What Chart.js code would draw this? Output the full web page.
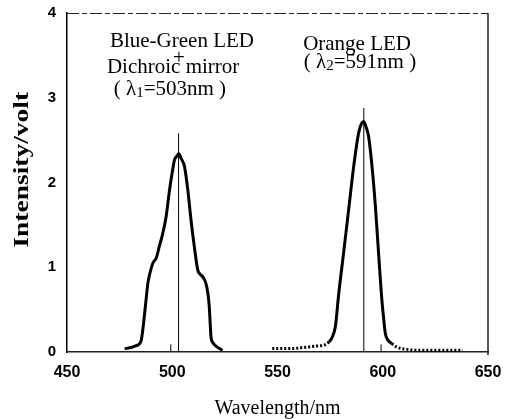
<!DOCTYPE html>
<html>
<head>
<meta charset="utf-8">
<script src="https://cdn.jsdelivr.net/npm/chart.js@4/dist/chart.umd.min.js"></script>
<style>
  html, body { margin: 0; padding: 0; background: #fff; }
  canvas { display: block; }
</style>
</head>
<body>
<canvas id="spectra" width="506" height="419"></canvas>
<script>
// blue-green LED through dichroic mirror
const blueGreenWl = [477.4, 480.0, 482.2, 484.2, 485.3, 486.2, 486.9, 487.7, 488.4, 489.6, 490.8, 492.4, 493.8, 495.5, 497.1, 498.7, 500.0, 501.1, 502.2, 503.1, 504.3, 505.8, 507.4, 508.9, 510.5, 512.1, 513.2, 514.4, 516.0, 517.0, 517.6, 518.0, 518.4, 519.3, 520.8, 522.4, 523.9]
const blueGreenV  = [0.04, 0.05, 0.07, 0.09, 0.14, 0.30, 0.46, 0.65, 0.81, 0.95, 1.05, 1.11, 1.24, 1.40, 1.60, 1.91, 2.12, 2.27, 2.31, 2.34, 2.28, 2.19, 1.91, 1.56, 1.24, 0.97, 0.92, 0.89, 0.81, 0.68, 0.53, 0.35, 0.18, 0.11, 0.07, 0.04, 0.02]

// orange LED
const orangeWl = [547.5, 552, 557, 561, 565, 568.5, 572.0, 574.5, 575.9, 577.5, 579.1, 581.4, 583.8, 586.2, 588.5, 590.0, 590.9, 592.0, 593.3, 594.9, 596.5, 598.0, 599.6, 600.5, 601.2, 602.5, 604.3, 606.5, 609.0, 612, 616, 620, 625, 630, 635, 638]
const orangeV  = [0.04, 0.04, 0.04, 0.05, 0.06, 0.07, 0.08, 0.12, 0.17, 0.30, 0.69, 1.17, 1.68, 2.19, 2.58, 2.70, 2.72, 2.66, 2.54, 2.19, 1.72, 1.17, 0.61, 0.38, 0.22, 0.14, 0.10, 0.06, 0.04, 0.03, 0.02, 0.02, 0.02, 0.02, 0.02, 0.02]

// peak marker lines (wavelength, top value)
const peakWl  = [503, 591]
const peakTop = [2.58, 2.88]

// little marks standing on the axis
const axisMarkWl = [499.3, 599.2]
const axisMarkH = 0.09

const xTicks = [450, 500, 550, 600, 650]
const yTicks = [0, 1, 2, 3, 4]

const yTitle = 'Intensity/volt'

const annotations = [
  { wl: 504.6, v: 3.60, text: 'Blue-Green LED' },
  { wl: 503.2, v: 3.40, text: '+' },
  { wl: 500.4, v: 3.29, text: 'Dichroic mirror' },
  { wl: 498.9, v: 3.03, text: '( λ', sub: '1', rest: '=503nm )' },
  { wl: 587.8, v: 3.56, text: 'Orange LED' },
  { wl: 589.2, v: 3.35, text: '( λ', sub: '2', rest: '=591nm )' }
]

const toPoints = (xs, ys) => xs.map((x, i) => ({ x: x, y: ys[i] }))

const serif = '"Liberation Serif", "Times New Roman", serif'
const sans = '"Liberation Sans", Arial, sans-serif'

const datasets = [
  {
    data: toPoints(blueGreenWl, blueGreenV),
    borderColor: '#000',
    borderWidth: 3,
    pointRadius: 0,
    cubicInterpolationMode: 'monotone'
  },
  {
    data: toPoints(orangeWl, orangeV),
    borderColor: '#000',
    borderWidth: 3,
    pointRadius: 0,
    cubicInterpolationMode: 'monotone',
    segment: {
      borderDash: ctx => (ctx.p0.parsed.y < 0.13 && ctx.p1.parsed.y < 0.13) ? [2, 2] : undefined
    }
  }
]
peakWl.forEach((wl, i) => {
  datasets.push({
    data: [{ x: wl, y: 0 }, { x: wl, y: peakTop[i] }],
    borderColor: '#000',
    borderWidth: 1,
    pointRadius: 0
  })
})
axisMarkWl.forEach(wl => {
  datasets.push({
    data: [{ x: wl, y: 0 }, { x: wl, y: axisMarkH }],
    borderColor: '#000',
    borderWidth: 1,
    pointRadius: 0
  })
})

const labelsPlugin = {
  id: 'labels',
  afterDatasetsDraw(chart) {
    const { ctx, chartArea, scales } = chart
    ctx.save()
    // frame top and right
    ctx.strokeStyle = '#222'
    ctx.lineWidth = 1
    ctx.setLineDash([12, 3, 5, 3])
    ctx.beginPath()
    ctx.moveTo(chartArea.left, chartArea.top + 0.5)
    ctx.lineTo(chartArea.right, chartArea.top + 0.5)
    ctx.stroke()
    ctx.setLineDash([])
    ctx.lineWidth = 1.5
    ctx.beginPath()
    ctx.moveTo(chartArea.right, chartArea.top)
    ctx.lineTo(chartArea.right, chartArea.bottom + 3)
    ctx.stroke()

    // y title, a bit stretched like the scan
    ctx.fillStyle = '#000'
    ctx.save()
    ctx.translate(22, scales.y.getPixelForValue(2.15))
    ctx.rotate(-Math.PI / 2)
    ctx.scale(1.25, 1)
    ctx.font = 'bold 22px ' + serif
    ctx.textAlign = 'center'
    ctx.textBaseline = 'middle'
    ctx.fillText(yTitle, 0, 0)
    ctx.restore()

    ctx.textBaseline = 'alphabetic'
    annotations.forEach(a => {
      const cx = scales.x.getPixelForValue(a.wl)
      const by = scales.y.getPixelForValue(a.v)
      ctx.font = '21px ' + serif
      if (!a.sub) {
        ctx.textAlign = 'center'
        ctx.fillText(a.text, cx, by)
        return
      }
      const w1 = ctx.measureText(a.text).width
      const w3 = ctx.measureText(a.rest).width
      ctx.font = '15px ' + serif
      const w2 = ctx.measureText(a.sub).width
      let x = cx - (w1 + w2 + w3) / 2
      ctx.textAlign = 'left'
      ctx.font = '21px ' + serif
      ctx.fillText(a.text, x, by)
      x += w1
      ctx.font = '15px ' + serif
      ctx.fillText(a.sub, x, by + 2)
      x += w2
      ctx.font = '21px ' + serif
      ctx.fillText(a.rest, x, by)
    })
    ctx.restore()
  }
}

new Chart(document.getElementById('spectra'), {
  type: 'line',
  data: { datasets: datasets },
  plugins: [labelsPlugin],
  options: {
    responsive: false,
    animation: false,
    layout: { padding: { top: 13, right: 18, left: 0, bottom: 0 } },
    plugins: {
      legend: { display: false },
      tooltip: { enabled: false }
    },
    scales: {
      x: {
        type: 'linear',
        min: 450,
        max: 650,
        afterFit: s => { s.height = 67; s.paddingLeft = 0; s.paddingRight = 0 },
        afterBuildTicks: s => { s.ticks = xTicks.map(v => ({ value: v })) },
        grid: { display: false, drawTicks: false },
        border: { color: '#222', width: 1.5, dash: [14, 2] },
        ticks: {
          padding: 11,
          color: '#000',
          font: { family: sans, size: 16, weight: 'bold' }
        },
        title: {
          display: true,
          text: 'Wavelength/nm',
          color: '#000',
          font: { family: serif, size: 20, lineHeight: 1.0 },
          padding: { top: 0, bottom: 0 }
        }
      },
      y: {
        min: 0,
        max: 4,
        afterFit: s => { s.width = 67; s.paddingTop = 0; s.paddingBottom = 0 },
        afterBuildTicks: s => { s.ticks = yTicks.map(v => ({ value: v })) },
        grid: { display: false, drawTicks: false },
        border: { color: '#000', width: 1.5 },
        ticks: {
          padding: 11,
          color: '#000',
          font: { family: sans, size: 15, weight: 'bold' }
        }
      }
    }
  }
})
</script>
</body>
</html>
